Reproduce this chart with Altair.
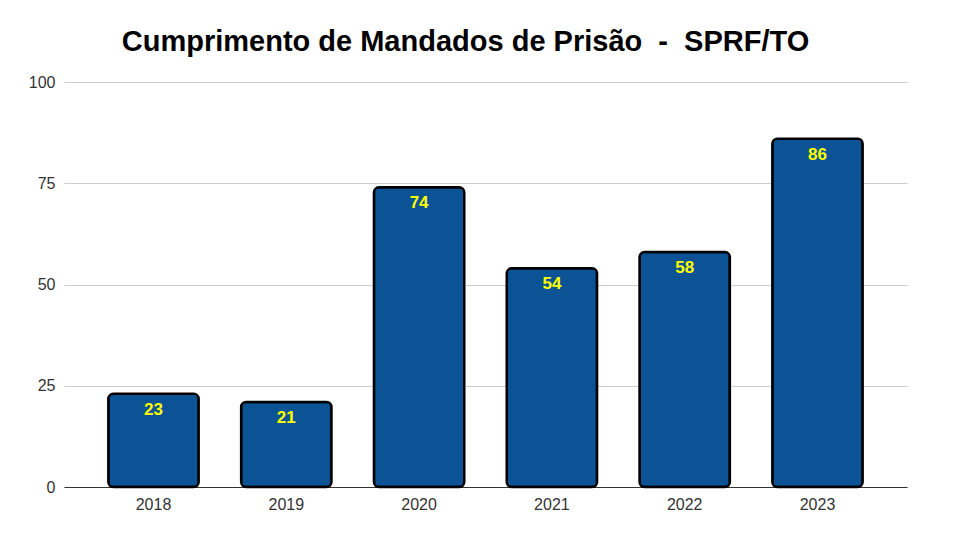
import altair as alt
import pandas as pd

years = ["2018", "2019", "2020", "2021", "2022", "2023"]
values = [23, 21, 74, 54, 58, 86]

df = pd.DataFrame({"ano": years, "valor": values})

x = alt.X("ano:N", sort=years, title=None,
          scale=alt.Scale(paddingInner=0.32, paddingOuter=0.334),
          axis=alt.Axis(labelAngle=0, labelFontSize=16, labelColor="#333333",
                        labelFont="Liberation Sans", labelPadding=9,
                        ticks=False, domainColor="#333333", domainWidth=1.2,
                        grid=False))
y = alt.Y("valor:Q", title=None,
          scale=alt.Scale(domain=[0, 100], nice=False),
          axis=alt.Axis(values=[0, 25, 50, 75, 100], labelFontSize=16,
                        labelColor="#333333", labelFont="Liberation Sans",
                        labelPadding=9, ticks=False, domain=False,
                        gridColor="#cccccc", gridWidth=1))

base = alt.Chart(df).encode(x=x, y=y)

bars = base.mark_bar(color="#0b5394", stroke="#000000", strokeWidth=2.5,
                     cornerRadius=5)
labels = base.mark_text(color="#ffff00", fontWeight="bold", fontSize=17,
                        font="Liberation Sans", baseline="top", dy=8).encode(
    text="valor:Q")

title_text = "Cumprimento de Mandados de Prisão \u00a0-\u00a0 SPRF/TO"

chart = (bars + labels).properties(
    width=843, height=405,
    title=alt.TitleParams(title_text,
                          fontSize=29, fontWeight="bold", font="Liberation Sans",
                          color="#000000", anchor="middle", dx=-20, offset=17),
    autosize=alt.AutoSizeParams(type="none"),
    padding={"left": 56, "top": 74, "right": 45, "bottom": 45},
).configure(background="#ffffff").configure_view(stroke=None)

chart.save("out.html", embed_options={"renderer": "svg", "actions": False})
